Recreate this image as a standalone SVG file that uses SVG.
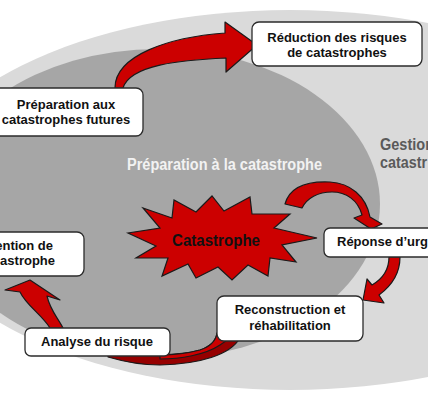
<svg xmlns="http://www.w3.org/2000/svg" width="428" height="400" viewBox="0 0 428 400">
<style>
text{font-family:"Liberation Sans",Arial,sans-serif;font-weight:bold}
.box{fill:#ffffff;stroke:#2b2b2b;stroke-width:1.3}
.lbl{font-size:13px;fill:#111111;text-anchor:middle}
.arr{fill:#cc0000;stroke:#1a1a1a;stroke-width:1.2;stroke-linejoin:round}
.dark{fill:#960000;stroke:#1a1a1a;stroke-width:1.2;stroke-linejoin:round}
</style>
<rect width="428" height="400" fill="#ffffff"/>
<g id="background">
<ellipse cx="290" cy="200" rx="380" ry="190" fill="#dadada"/>
<ellipse cx="158" cy="204" rx="222" ry="155" fill="#a6a6a6"/>
<text x="127" y="170" font-size="16" fill="#f2f2f2" textLength="195" lengthAdjust="spacingAndGlyphs">Préparation à la catastrophe</text>
<text x="380" y="150" font-size="17" fill="#5a5a5a" textLength="54" lengthAdjust="spacingAndGlyphs">Gestion</text>
<text x="380" y="168" font-size="17" fill="#5a5a5a" textLength="47" lengthAdjust="spacingAndGlyphs">catastr</text>
</g>
<g id="catastrophe">
<polygon points="317,238 282,245 296,262 270,258 268,276 248,265 232,280 218,267 196,278 188,264 162,276 168,258 136,258 156,246 128,233 160,228 143,208 172,218 174,200 196,212 212,196 224,211 250,197 252,214 290,214 274,228" fill="#cc0000" stroke="#1a1a1a" stroke-width="1.2" stroke-linejoin="miter"/>
<text x="172" y="246" font-size="16.5" fill="#111111" textLength="88" lengthAdjust="spacingAndGlyphs">Catastrophe</text>
</g>
<g id="connectors">
<path class="dark" d="M240,338 C230,355 200,364 160,365 C140,365 125,362 108,357 L108,351 C140,356 180,356 200,350 C212,346 216,340 217,333 Z"/>
<path class="arr" d="M217,333 C216,340 212,346 200,350 C185,354 170,355 160,355 L160,359 C180,359 205,355 220,345 C228,340 232,336 234,333 Z" stroke="none"/>
<path class="arr" d="M115,88 C115,55 170,37 225,33 L225,22 L257,45 L226,72 L226,58 C180,60 130,65 123,88 Z"/>
<path class="arr" d="M285,204 C290,186 308,181 330,182 C350,183 366,196 370,217 L382,224 L371,229 L354,218 L362,215 C358,200 346,192 332,192 C318,192 307,198 302,208 Z"/>
<path class="arr" d="M389,257 C389,268 384,278 372,285 L367,279 L363,300 L384,303 L379,295 C394,284 400,272 400,257 Z"/>
<path class="arr" d="M50,328 C42,315 26,305 20,292 L5,290 L30,280 L60,300 L47,296 C50,310 58,318 63,328 Z"/>
</g>
<g id="preparation-futures">
<rect class="box" x="-10" y="88" width="153" height="48" rx="7"/>
<text class="lbl" x="66" y="109">Préparation aux</text>
<text class="lbl" x="66" y="124">catastrophes futures</text>
</g>
<g id="reduction">
<rect class="box" x="252" y="22" width="170" height="44" rx="7"/>
<text class="lbl" x="337" y="42">Réduction des risques</text>
<text class="lbl" x="337" y="57">de catastrophes</text>
</g>
<g id="reponse">
<rect class="box" x="324" y="228" width="120" height="29" rx="6"/>
<text x="337" y="246" font-size="13" fill="#111111">Réponse d’urg</text>
</g>
<g id="reconstruction">
<rect class="box" x="217" y="296" width="146" height="45" rx="7"/>
<text class="lbl" x="290" y="314">Reconstruction et</text>
<text class="lbl" x="290" y="330">réhabilitation</text>
</g>
<g id="analyse">
<rect class="box" x="25" y="328" width="145" height="28" rx="6"/>
<text class="lbl" x="97" y="346">Analyse du risque</text>
</g>
<g id="prevention">
<rect class="box" x="-10" y="232" width="94" height="44" rx="7"/>
<text x="53" y="250" font-size="13" fill="#111111" text-anchor="end">ention de</text>
<text x="55" y="265" font-size="13" fill="#111111" text-anchor="end">astrophe</text>
</g>
</svg>
